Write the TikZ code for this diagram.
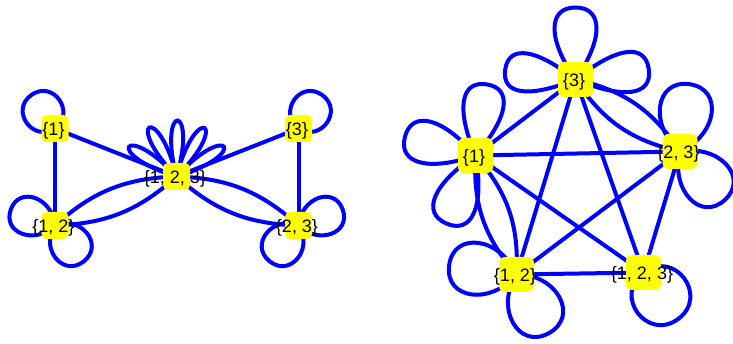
\documentclass[tikz,border=0pt]{standalone}
\usepackage{fontspec}
\setmainfont{Liberation Sans}
\usetikzlibrary{backgrounds,calc}
\definecolor{eblue}{RGB}{0,0,255}
\definecolor{nyellow}{RGB}{255,255,0}
% loop: node, direction, length (tip distance), width
\newcommand\lp[4]{%
  \pgfmathsetmacro\lpP{4*(#3-#4)/3}%
  \pgfmathsetmacro\lpH{2*#4/3}%
  \pgfmathsetmacro\lpaA{atan2(\lpH,\lpP)}%
  \pgfmathsetmacro\lprA{veclen(\lpP,\lpH)}%
  \pgfmathsetmacro\lpaB{atan2(\lpH,#3)}%
  \pgfmathsetmacro\lprB{veclen(#3,\lpH)}%
  \draw[edge] (#1.center) .. controls ($(#1.center)+({#2-\lpaA}:\lprA)$) and ($(#1.center)+({#2-\lpaB}:\lprB)$) .. ($(#1.center)+(#2:#3)$)
     .. controls ($(#1.center)+({#2+\lpaB}:\lprB)$) and ($(#1.center)+({#2+\lpaA}:\lprA)$) .. (#1.center);}
% petal: node, direction, length, width (single cubic)
\newcommand\petal[4]{%
  \pgfmathsetmacro\ptA{atan2(#4/0.577,#3/0.75)}%
  \pgfmathsetmacro\ptL{veclen(#3/0.75,#4/0.577)}%
  \draw[edge] (#1.center) .. controls ($(#1.center)+({#2-\ptA}:\ptL)$) and ($(#1.center)+({#2+\ptA}:\ptL)$) .. (#1.center);}
\begin{document}
\begin{tikzpicture}[x=1pt,y=1pt,
  edge/.style={draw=eblue, line width=4pt},
  lab/.style={font=\fontsize{18}{18}\selectfont, inner sep=0pt, xshift=-1.5pt, yshift=-2pt},
  sbox/.style={fill=nyellow, rounded corners=5pt, minimum size=27pt, inner sep=0pt},
  bbox/.style={fill=nyellow, rounded corners=6pt, minimum size=35pt, inner sep=0pt}]
\useasboundingbox (0,0) rectangle (733,344);
% left graph
\node[sbox, label={[lab]center:\{1\}}] (L1) at (55,215.5) {};
\node[sbox, label={[lab]center:\{3\}}] (L3) at (298.5,215.5) {};
\node[sbox, label={[lab]center:\{1, 2, 3\}}] (L123) at (176.5,167.5) {};
\node[sbox, label={[lab]center:\{1, 2\}}] (L12) at (55,118.5) {};
\node[sbox, label={[lab]center:\{2, 3\}}] (L23) at (298.5,118.5) {};
% right graph
\node[bbox, label={[lab]center:\{3\}}] (R3) at (575.5,264.5) {};
\node[bbox, label={[lab]center:\{1\}}] (R1) at (475.5,188.5) {};
\node[bbox, label={[lab]center:\{2, 3\}}] (R23) at (680,192.5) {};
\node[bbox, label={[lab]center:\{1, 2\}}] (R12) at (516.5,69.5) {};
\node[bbox, label={[lab]center:\{1, 2, 3\}}] (R123) at (643.5,71.5) {};
\begin{pgfonlayer}{background}
\draw[edge] (L1.center) -- (L12.center);
\draw[edge] (L3.center) -- (L23.center);
\draw[edge] (L1.center) -- (L123.center);
\draw[edge] (L3.center) -- (L123.center);
\draw[edge] (L12.center) to[bend left=20] (L123.center);
\draw[edge] (L12.center) to[bend right=20] (L123.center);
\draw[edge] (L23.center) to[bend left=20] (L123.center);
\draw[edge] (L23.center) to[bend right=20] (L123.center);
\lp{L1}{125}{41}{40}
\lp{L3}{55}{41}{40}
\lp{L12}{160}{47}{38}
\lp{L12}{309}{46}{40}
\lp{L23}{20}{47}{38}
\lp{L23}{231}{46}{40}
\foreach \t in {32,60,89,119,148}{\petal{L123}{\t}{56}{12}}
\draw[edge] (R1.center) -- (R3.center);
\draw[edge] (R1.center) -- (R23.center);
\draw[edge] (R1.center) -- (R123.center);
\draw[edge] (R3.center) -- (R12.center);
\draw[edge] (R3.center) -- (R123.center);
\draw[edge] (R23.center) -- (R12.center);
\draw[edge] (R23.center) -- (R123.center);
\draw[edge] (R12.center) -- (R123.center);
\draw[edge] (R1.center) to[bend left=22] (R12.center);
\draw[edge] (R1.center) to[bend right=22] (R12.center);
\draw[edge] (R3.center) to[bend left=22] (R23.center);
\draw[edge] (R3.center) to[bend right=22] (R23.center);
\lp{R3}{90}{72}{42}
\lp{R3}{172}{71}{38}
\lp{R3}{8}{74}{40}
\lp{R1}{81}{72}{40}
\lp{R1}{165}{73}{42}
\lp{R1}{247}{74}{42}
\lp{R23}{82}{68}{52}
\lp{R23}{313}{66}{50}
\lp{R12}{172}{68}{52}
\lp{R12}{299}{67}{53}
\lp{R123}{307}{58}{58}
\end{pgfonlayer}
\end{tikzpicture}
\end{document}
